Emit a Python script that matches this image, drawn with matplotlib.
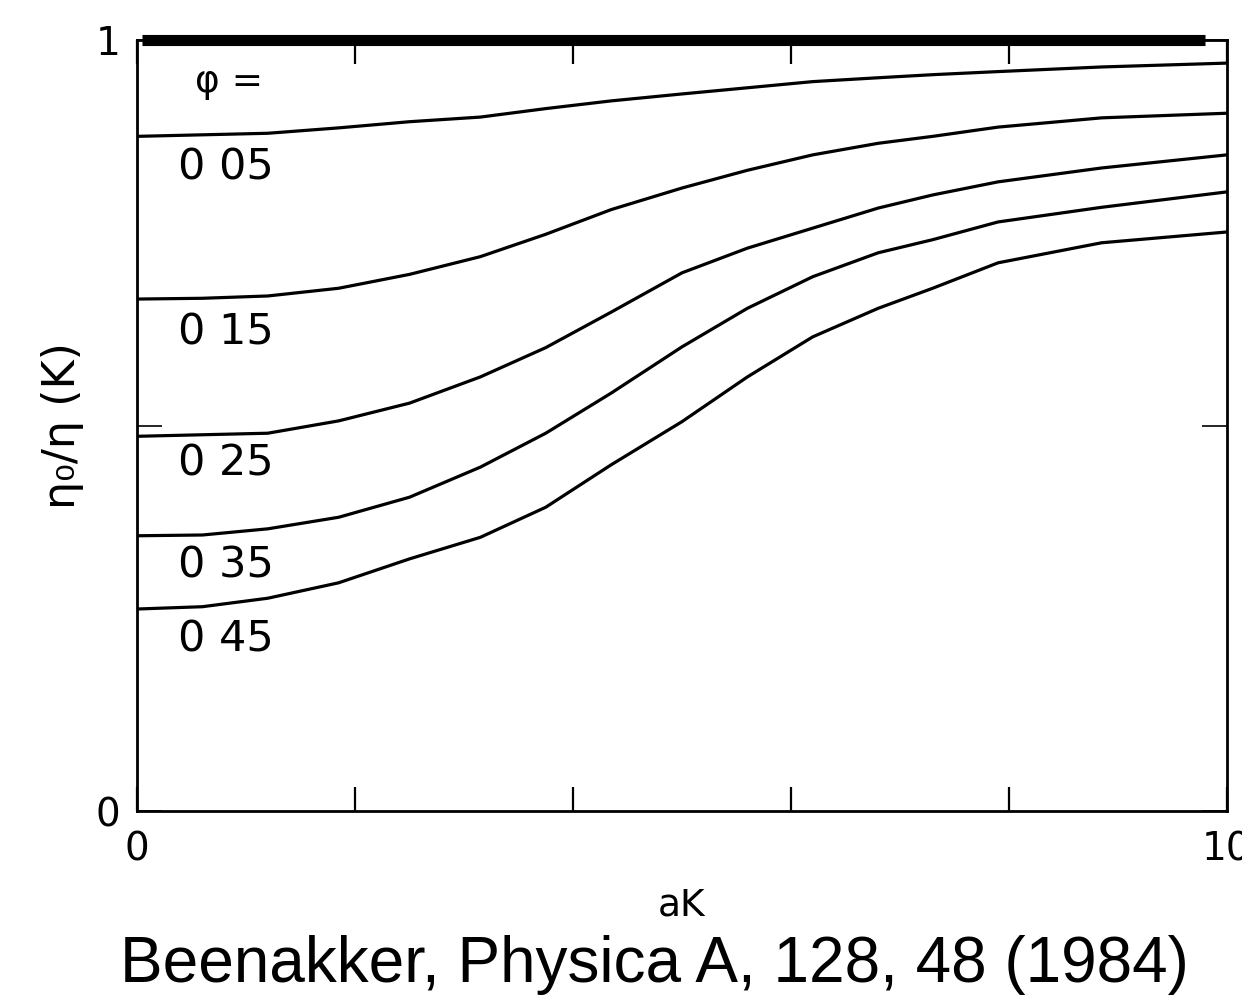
import numpy as np
import matplotlib
matplotlib.use("Agg")
import matplotlib.pyplot as plt

ak = [0, 0.6, 1.2, 1.85, 2.5, 3.15, 3.75, 4.35, 5.0, 5.6, 6.2, 6.8, 7.3, 7.9, 8.85, 10]

# eta0/eta(K) for each volume fraction phi
phi_005 = [0.875, 0.877, 0.879, 0.886, 0.894, 0.900, 0.911, 0.921, 0.930, 0.938,
           0.946, 0.951, 0.955, 0.959, 0.965, 0.970]
phi_015 = [0.664, 0.665, 0.668, 0.678, 0.696, 0.719, 0.748, 0.780, 0.808, 0.831,
           0.851, 0.866, 0.875, 0.887, 0.899, 0.905]
phi_025 = [0.486, 0.488, 0.490, 0.506, 0.529, 0.563, 0.601, 0.647, 0.698, 0.730,
           0.756, 0.782, 0.799, 0.816, 0.834, 0.851]
phi_035 = [0.357, 0.358, 0.366, 0.381, 0.407, 0.446, 0.490, 0.542, 0.602, 0.652,
           0.693, 0.724, 0.741, 0.764, 0.783, 0.803]
phi_045 = [0.262, 0.265, 0.276, 0.296, 0.327, 0.355, 0.394, 0.449, 0.505, 0.563,
           0.615, 0.652, 0.678, 0.711, 0.737, 0.751]

# phi = 0 reference line
phi_0_x = [0.05, 9.8]
phi_0_y = [1.0, 1.0]

curve_labels = ["0 05", "0 15", "0 25", "0 35", "0 45"]
label_y = [0.834, 0.620, 0.451, 0.318, 0.222]

fig = plt.figure(figsize=(12.42, 10.07), dpi=100)
ax = fig.add_axes([0.1103, 0.1946, 0.8776, 0.7657])

ax.plot(phi_0_x, phi_0_y, color="black", lw=8, solid_capstyle="butt", clip_on=False)
for ys in [phi_005, phi_015, phi_025, phi_035, phi_045]:
    ax.plot(ak, ys, color="black", lw=2.3, solid_joinstyle="round")

ax.text(0.53, 0.946, "φ =", fontsize=27, va="center", ha="left")
for lab, yy in zip(curve_labels, label_y):
    ax.text(0.38, yy, lab, fontsize=31, va="center", ha="left")

ax.set_xlim(0, 10)
ax.set_ylim(0, 1)
ax.set_xticks([0, 2, 4, 6, 8, 10])
ax.set_xticklabels(["0", "", "", "", "", "10"])
ax.set_yticks([0, 0.5, 1])
ax.set_yticklabels(["0", "", "1"])
ax.tick_params(axis="x", direction="in", top=True, bottom=True, length=17,
               width=1.6, labelsize=28, pad=14)
ax.tick_params(axis="y", direction="in", left=True, right=True, length=18,
               width=1.2, labelsize=28, pad=12)
for s in ax.spines.values():
    s.set_linewidth(2.0)

ax.set_xlabel("aK", fontsize=27, labelpad=14)
ax.set_ylabel("η₀/η (K)", fontsize=32, labelpad=8)

fig.text(0.527, 0.042, "Beenakker, Physica A, 128, 48 (1984)",
         fontsize=46, family="Liberation Sans", ha="center", va="center")

fig.savefig("out.png", dpi=100)
